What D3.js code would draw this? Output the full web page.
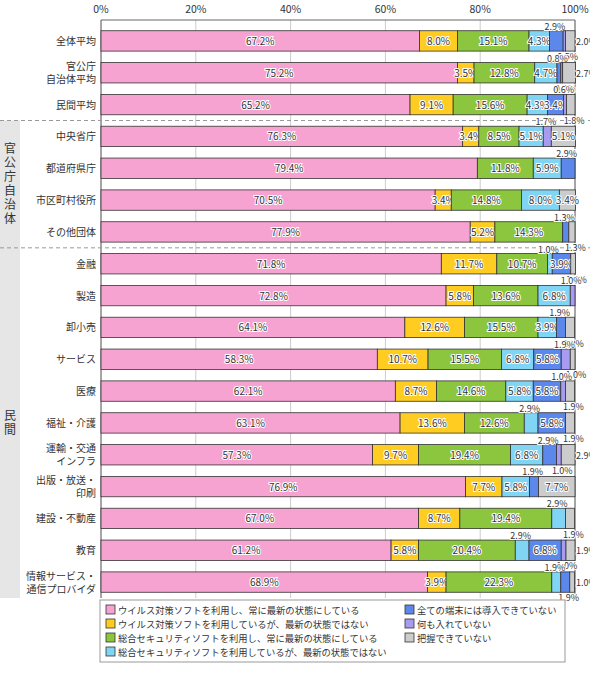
<!DOCTYPE html>
<html><head><meta charset="utf-8">
<script src="https://cdn.jsdelivr.net/npm/d3@7"></script>
<style>body{margin:0;background:#fff;font-family:"Noto Sans CJK JP",sans-serif}</style>
</head><body><svg id="c" width="590" height="680"></svg>
<script>
const categories = ["全体平均","官公庁\n自治体平均","民間平均","中央省庁","都道府県庁","市区町村役所","その他団体","金融","製造","卸小売","サービス","医療","福祉・介護","運輸・交通\nインフラ","出版・放送・\n印刷","建設・不動産","教育","情報サービス・\n通信プロバイダ"];
const seriesNames = ["ウイルス対策ソフトを利用し、常に最新の状態にしている","ウイルス対策ソフトを利用しているが、最新の状態ではない","総合セキュリティソフトを利用し、常に最新の状態にしている","総合セキュリティソフトを利用しているが、最新の状態ではない","全ての端末には導入できていない","何も入れていない","把握できていない"];
const colors = ["#f7a3d2","#ffcc22","#8cc63f","#80d4f4","#5b88ea","#a89cf2","#cccccc"];
const virusLatest   = [67.2,75.2,65.2,76.3,79.4,70.5,77.9,71.8,72.8,64.1,58.3,62.1,63.1,57.3,76.9,67.0,61.2,68.9];
const virusOld      = [8.0,3.5,9.1,3.4,0,3.4,5.2,11.7,5.8,12.6,10.7,8.7,13.6,9.7,7.7,8.7,5.8,3.9];
const suiteLatest   = [15.1,12.8,15.6,8.5,11.8,14.8,14.3,10.7,13.6,15.5,15.5,14.6,12.6,19.4,0,19.4,20.4,22.3];
const suiteOld      = [4.3,4.7,4.3,5.1,5.9,8.0,0,1.0,6.8,3.9,6.8,5.8,2.9,6.8,5.8,2.9,2.9,1.9];
const notAll        = [2.9,0.8,3.4,0,2.9,0,1.3,3.9,0,1.9,5.8,5.8,5.8,2.9,1.9,0,6.8,1.9];
const nothing       = [0.5,0.4,0.6,1.7,0,0,0,0,1.0,0,1.9,1.0,0,1.0,0,0,1.0,0];
const unknown       = [2.0,2.7,1.8,5.1,0,3.4,1.3,1.0,0,1.9,1.0,1.9,1.9,2.9,7.7,1.9,1.9,1.0];
const xTicks = [0,20,40,60,80,100];
const series = [virusLatest,virusOld,suiteLatest,suiteOld,notAll,nothing,unknown];

const svg = d3.select("#c");
const x = d3.scaleLinear().domain([0,100]).range([101,575]);
const y = d3.scaleBand().domain(d3.range(categories.length)).range([25,598]).paddingInner(0.36).paddingOuter(0.18);

[[3,6,"官公庁自治体"],[7,17,"民間"]].forEach(([a,b,t])=>{
  const y0 = y(a)-y.step()*y.paddingInner()/2, y1 = y(b)+y.bandwidth()+y.step()*y.paddingInner()/2;
  svg.append("rect").attr("x",0).attr("y",y0).attr("width",20).attr("height",y1-y0).attr("fill","#e6e6e6");
  const tx = svg.append("text").attr("font-size",12).attr("text-anchor","middle").attr("fill","#333");
  const chars = t.split(""), cy=(y0+y1)/2, lh=14;
  chars.forEach((c,i)=>tx.append("tspan").attr("x",10).attr("y",cy+(i-(chars.length-1)/2)*lh+4).text(c));
});

svg.selectAll(".g").data(xTicks).join("line").attr("x1",d=>x(d)).attr("x2",d=>x(d))
  .attr("y1",20).attr("y2",598).attr("stroke","#ccc");
[0,100].forEach(v=>svg.append("line").attr("x1",x(v)).attr("x2",x(v)).attr("y1",20).attr("y2",598).attr("stroke","#666"));
svg.append("line").attr("x1",x(0)).attr("x2",x(100)).attr("y1",20).attr("y2",20).attr("stroke","#666");
svg.selectAll(".t").data(xTicks).join("text").attr("x",d=>x(d)).attr("y",13).attr("text-anchor","middle")
  .attr("font-size",10.5).attr("fill","#333").text(d=>d+"%");

[3,7].forEach(i=>{
  const yy = y(i)-y.step()*y.paddingInner()/2;
  svg.append("line").attr("x1",0).attr("x2",590).attr("y1",yy).attr("y2",yy)
    .attr("stroke","#999").attr("stroke-dasharray","4,3");
});

categories.forEach((c,i)=>{
  const lines=c.split("\n"), cy=y(i)+y.bandwidth()/2;
  lines.forEach((l,j)=>svg.append("text").attr("x",96).attr("y",cy+(j-(lines.length-1)/2)*13+4)
    .attr("text-anchor","end").attr("font-size",10).attr("fill","#333").text(l));
});

categories.forEach((c,i)=>{
  let cum=0, flip=0;
  const by=y(i), bh=y.bandwidth();
  series.forEach((s,k)=>{
    const v=s[i];
    if(v>0){
      svg.append("rect").attr("x",x(cum)).attr("y",by).attr("width",x(cum+v)-x(cum)).attr("height",bh)
        .attr("fill",colors[k]).attr("stroke","#333").attr("stroke-width",0.8);
      const cx=(x(cum)+x(cum+v))/2;
      let tx=cx, ty=by+bh/2+4, anchor="middle", fs=10;
      if(v<3.3){
        fs=9;
        if(flip===0){ ty=by-1; anchor="end"; tx=cx+9; }
        else if(flip===1){ ty=by+bh+9; anchor="start"; tx=cx-7; }
        else { ty=by+bh/2+4; anchor="start"; tx=x(100)+1; }
        flip++;
      }
      svg.append("text").attr("x",tx).attr("y",ty).attr("text-anchor",anchor).attr("font-size",fs)
        .attr("fill","#333").attr("stroke","#fff").attr("stroke-width",2).attr("paint-order","stroke")
        .text(v.toFixed(1)+"%");
    }
    cum+=v;
  });
});

svg.append("rect").attr("x",100).attr("y",600).attr("width",465).attr("height",62).attr("fill","#fff").attr("stroke","#999");
seriesNames.forEach((n,k)=>{
  const col = k<4?0:1, row = k<4?k:k-4;
  const lx = col?405:106, ly = 605+row*14;
  svg.append("rect").attr("x",lx).attr("y",ly).attr("width",9).attr("height",9).attr("fill",colors[k]).attr("stroke","#333").attr("stroke-width",0.8);
  svg.append("text").attr("x",lx+12).attr("y",ly+8.5).attr("font-size",9.3).attr("fill","#333").text(n);
});
</script></body></html>
